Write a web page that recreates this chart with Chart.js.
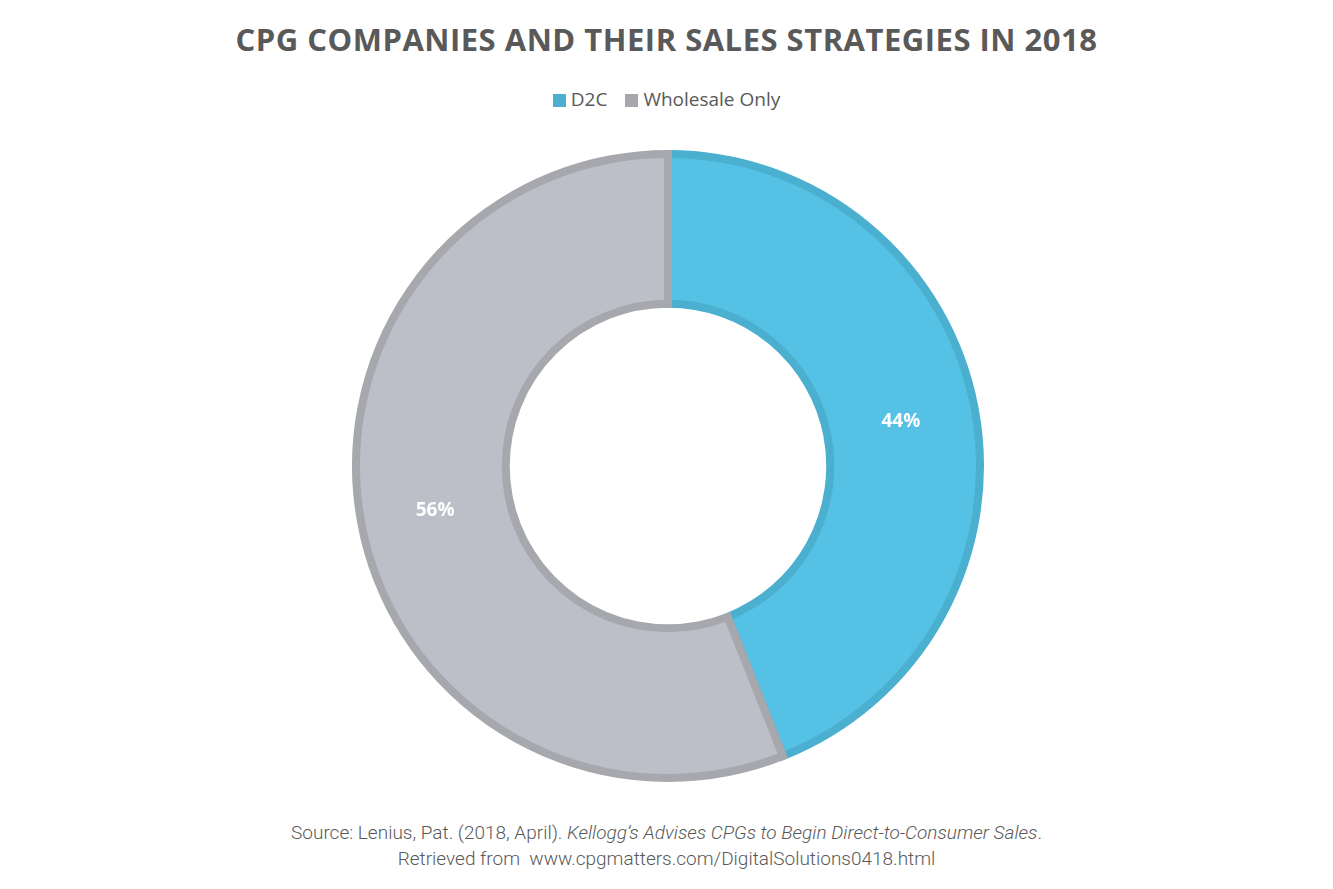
<!DOCTYPE html>
<html><head><meta charset="utf-8">
<script src="https://cdn.jsdelivr.net/npm/chart.js@4"></script>
<style>
body{margin:0;width:1333px;height:889px;background:#fff;position:relative;overflow:hidden;font-family:"Open Sans",sans-serif}
#title{position:absolute;top:18px;left:0;width:1333px;text-align:center;font-weight:bold;font-size:31px;color:#595959;letter-spacing:0.5px}
#legend{position:absolute;top:86px;left:0;width:1333px;text-align:center;font-size:19px;color:#595959}
#legend span.sw{display:inline-block;width:13px;height:13px;margin-right:5px;vertical-align:-1px}
#legend span.it{margin:0 9px}
#wrap{position:absolute;top:150px;left:0;width:1336px;height:632px}
#foot{position:absolute;top:820px;left:0;width:1333px;text-align:center;font-family:Roboto,sans-serif;font-weight:300;font-size:19px;color:#595959;line-height:26px}
</style></head><body>
<div id="title">CPG COMPANIES AND THEIR SALES STRATEGIES IN 2018</div>
<div id="legend"></div>
<div id="wrap"><canvas id="c"></canvas></div>
<div id="foot">Source: Lenius, Pat. (2018, April). <i>Kellogg’s Advises CPGs to Begin Direct-to-Consumer Sales</i>.<br>Retrieved from &nbsp;www.cpgmatters.com/DigitalSolutions0418.html</div>
<script>
const categories = ["D2C", "Wholesale Only"];
const values = [44, 56];
const fills = ["#55C2E5", "#BCBFC8"];
const borders = ["#4BAFCF", "#A7A8AD"];
const legendSw = ["#4BAFCF", "#A7A8AD"];

document.getElementById('legend').innerHTML = categories.map((c,i)=>
  `<span class="it"><span class="sw" style="background:${legendSw[i]}"></span>${c}</span>`).join('');

const labelPlugin = {
  id:'lbl',
  afterDatasetsDraw(chart){
    const ctx=chart.ctx;
    chart.getDatasetMeta(0).data.forEach((arc,i)=>{
      const p=arc.getProps(['x','y','startAngle','endAngle','innerRadius','outerRadius'],true);
      const a=(p.startAngle+p.endAngle)/2, r=(p.innerRadius+p.outerRadius)/2;
      ctx.save();
      ctx.fillStyle='#fff';ctx.font='bold 19px "Open Sans"';
      ctx.textAlign='center';ctx.textBaseline='middle';
      ctx.fillText(values[i]+'%',p.x+Math.cos(a)*r,p.y+Math.sin(a)*r);
      ctx.restore();
    });
  }
};
new Chart(document.getElementById('c'),{
  type:'doughnut',
  data:{labels:categories,datasets:[{data:values,backgroundColor:fills,borderColor:borders,borderWidth:8,borderJoinStyle:'miter'}]},
  options:{responsive:true,maintainAspectRatio:false,animation:false,cutout:'52%',
    layout:{padding:0},
    plugins:{legend:{display:false},tooltip:{enabled:false},title:{display:false}}},
  plugins:[labelPlugin]
});
</script>
</body></html>
